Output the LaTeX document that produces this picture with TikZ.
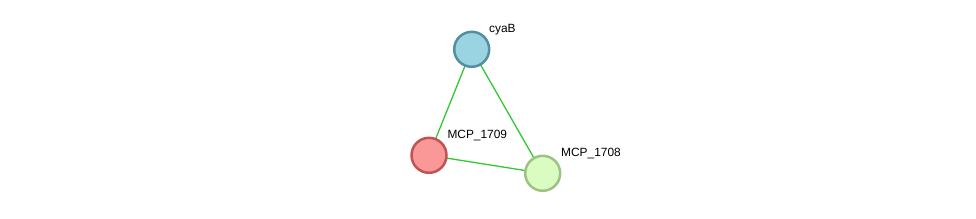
\documentclass[tikz,border=0pt]{standalone}
\usepackage{fontspec}
\setmainfont{Liberation Sans}
\begin{document}
\begin{tikzpicture}[x=1pt,y=-1pt,
  prot/.style={circle,minimum size=35pt,inner sep=0pt,line width=2.5pt},
  lbl/.style={font=\fontsize{11.9}{14}\selectfont,anchor=base west,inner sep=0pt},
  edge/.style={draw={rgb,255:red,51;green,200;blue,51},line width=1.3pt}]
\useasboundingbox (0,0) rectangle (976,219);
\definecolor{cyaF}{RGB}{154,211,225}
\definecolor{cyaD}{RGB}{83,143,160}
\definecolor{redF}{RGB}{250,152,152}
\definecolor{redD}{RGB}{192,84,84}
\definecolor{grnF}{RGB}{218,252,192}
\definecolor{grnD}{RGB}{157,194,131}
\coordinate (pc) at (471.7,49.3);
\coordinate (pr) at (429,155.3);
\coordinate (pg) at (542.7,173.3);
\draw[edge] (pc) -- (pr);
\draw[edge] (pc) -- (pg);
\draw[edge] (pr) -- (pg);
\node[prot,fill=cyaF,draw=cyaD] (cyaB) at (pc) {};
\node[prot,fill=redF,draw=redD] (m1709) at (pr) {};
\node[prot,fill=grnF,draw=grnD] (m1708) at (pg) {};
\node[lbl] (l1) at (489,32.3) {cyaB};
\node[lbl] (l2) at (447.3,138.3) {MCP\_1709};
\node[lbl] (l3) at (561,156) {MCP\_1708};
\end{tikzpicture}
\end{document}
